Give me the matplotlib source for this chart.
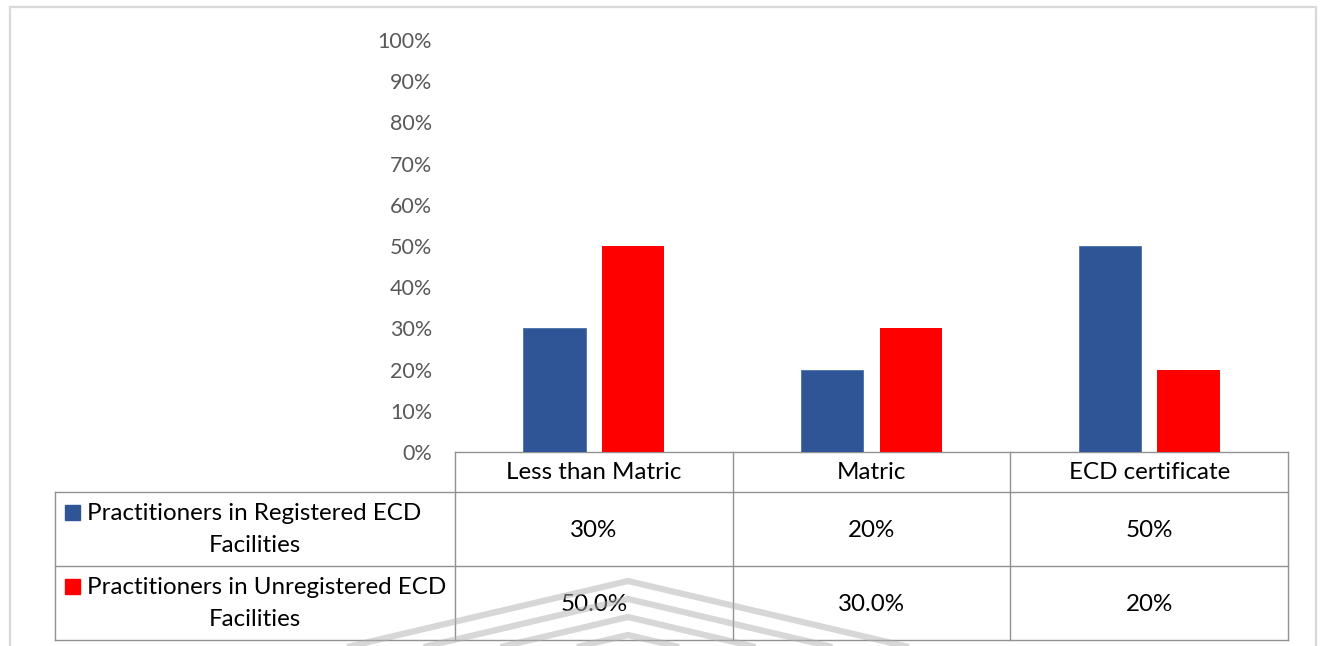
import numpy as np
import matplotlib.pyplot as plt
from matplotlib.patches import Rectangle

plt.rcParams['font.family'] = ['Lato', 'DejaVu Sans']

# chart data
categories = ['Less than Matric', 'Matric', 'ECD certificate']
series_lines = [('Practitioners in Registered ECD', 'Facilities'),
                ('Practitioners in Unregistered ECD', 'Facilities')]
registered = [0.30, 0.20, 0.50]
unregistered = [0.50, 0.30, 0.20]
registered_text = ['30%', '20%', '50%']
unregistered_text = ['50.0%', '30.0%', '20%']
yticks = [0.0, 0.1, 0.2, 0.3, 0.4, 0.5, 0.6, 0.7, 0.8, 0.9, 1.0]
colors = ['#2F5597', '#FF0000']

# layout in pixels
W, H = 1320, 646
plot_left, plot_right = 455, 1288
y_zero, y_top = 452, 40
legend_left = 55
row_edges = [452, 492, 566, 640]
grid_color = '#919191'
text_size = 17.4

fig = plt.figure(figsize=(W / 100, H / 100), dpi=100)

# page layer for the frame, data table and background mark
page = fig.add_axes([0, 0, 1, 1], zorder=0)
page.set_xlim(0, W)
page.set_ylim(H, 0)
page.axis('off')

ax = fig.add_axes([plot_left / W, 1 - y_zero / H,
                   (plot_right - plot_left) / W, (y_zero - y_top) / H], zorder=1)
ax.patch.set_visible(False)

x = np.arange(len(categories))
bw, off = 0.224, 0.142
ax.bar(x - off, registered, bw, color=colors[0], edgecolor='#4a70ad', linewidth=0.6)
ax.bar(x + off, unregistered, bw, color=colors[1], linewidth=0)
ax.set_xlim(-0.5, len(categories) - 0.5)
ax.set_ylim(0, 1)
ax.set_xticks([])
ax.set_yticks(yticks)
ax.set_yticklabels([f'{round(t * 100)}%' for t in yticks])
ax.tick_params(axis='y', length=0, pad=16.5, labelsize=15.5, labelcolor='#595959')
for s in ax.spines.values():
    s.set_visible(False)

# outer chart frame
page.plot([10, 10, 1316, 1316], [660, 7, 7, 660], color='#d9d9d9', lw=1.6,
          solid_joinstyle='miter')

# data table grid
col_w = (plot_right - plot_left) / len(categories)
col_edges = [plot_left + i * col_w for i in range(len(categories) + 1)]
page.plot([plot_left, plot_right], [row_edges[0]] * 2, color=grid_color, lw=1)
for yy in row_edges[1:]:
    page.plot([legend_left, plot_right], [yy, yy], color=grid_color, lw=1)
for xx in col_edges:
    page.plot([xx, xx], [row_edges[0], row_edges[-1]], color=grid_color, lw=1)
page.plot([legend_left] * 2, [row_edges[1], row_edges[-1]], color=grid_color, lw=1)

centers = [(a + b) / 2 for a, b in zip(col_edges[:-1], col_edges[1:])]
for cx, name in zip(centers, categories):
    page.text(cx, 479, name, ha='center', va='baseline', fontsize=text_size,
              color='black', zorder=3)

rows = [registered_text, unregistered_text]
for r, (labels, lines, c) in enumerate(zip(rows, series_lines, colors)):
    top = row_edges[r + 1]
    for cx, lab in zip(centers, labels):
        page.text(cx, top + 45, lab, ha='center', va='baseline', fontsize=text_size,
                  color='black', zorder=3)
    page.add_patch(Rectangle((65, top + 13), 15, 15, color=c, zorder=3))
    page.text(87, top + 28.5, lines[0], ha='left', va='baseline', fontsize=text_size,
              color='black', zorder=3)
    page.text((legend_left + plot_left) / 2, top + 60, lines[1], ha='center',
              va='baseline', fontsize=text_size, color='black', zorder=3)

# faint chevron watermark over the table
peak_x, slope = 628, 0.235
for peak_y in [581, 599, 617, 635]:
    span = (H + 10 - peak_y) / slope
    page.plot([peak_x - span, peak_x, peak_x + span], [H + 10, peak_y, H + 10],
              color='#b0b0b0', alpha=0.5, lw=4.5, solid_capstyle='butt', zorder=4)

fig.savefig('out.png', dpi=100, facecolor='white')
